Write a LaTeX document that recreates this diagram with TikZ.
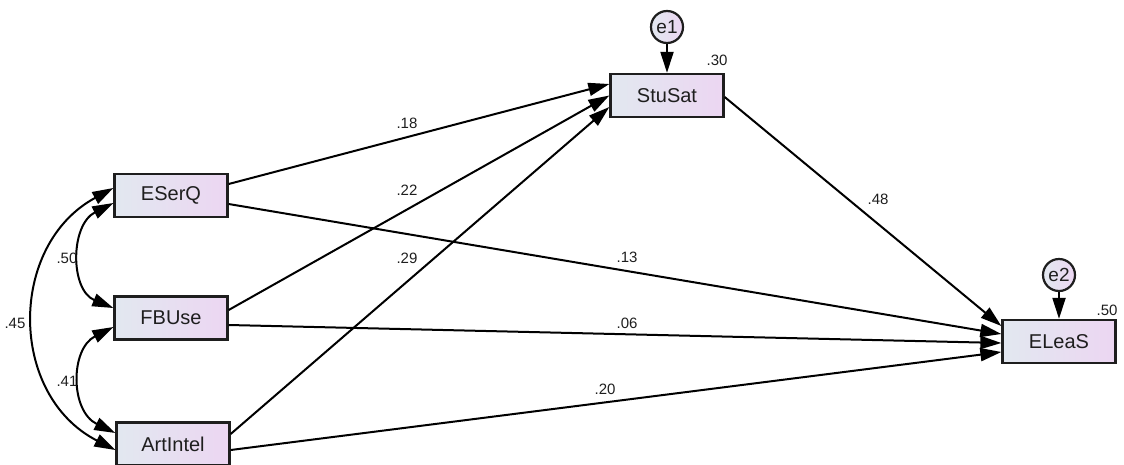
\documentclass[tikz,border=0pt]{standalone}
\usepackage{fontspec}
\setmainfont{Liberation Sans}
\usetikzlibrary{arrows.meta,calc}
\definecolor{boxL}{RGB}{226,232,240}
\definecolor{boxR}{RGB}{236,214,242}
\definecolor{edge}{RGB}{30,30,30}
\begin{document}
\begin{tikzpicture}[x=1pt,y=-1pt,
  var/.style={draw=edge, line width=2.3pt, rectangle, minimum width=113pt, minimum height=43pt,
    left color=boxL, right color=boxR, inner sep=0pt, font=\fontsize{20}{24}\selectfont, text=edge},
  err/.style={circle, draw=edge, line width=2.2pt, minimum size=32pt, inner sep=0pt,
    left color=boxL, right color=boxR, font=\fontsize{19}{22}\selectfont, text=edge},
  pth/.style={line width=2pt, -{Triangle[length=21pt,width=13pt]}},
  cov/.style={line width=2pt, {Triangle[length=21pt,width=13pt]}-{Triangle[length=21pt,width=13pt]}},
  lab/.style={font=\fontsize{15}{18}\selectfont, inner sep=0pt, text=edge}]
\useasboundingbox (0,0) rectangle (1124,464);

\node[var] (ESerQ) at (171,195.5) {ESerQ};
\node[var] (FBUse) at (171,318) {FBUse};
\node[var] (ArtIntel) at (173,444) {ArtIntel};
\node[var] (StuSat) at (667,95.5) {StuSat};
\node[var] (ELeaS) at (1059,341.5) {ELeaS};
\node[err] (e1) at (667,27) {e1};
\node[err] (e2) at (1059,275) {e2};

% error arrows
\draw[pth] (e1) -- (StuSat);
\draw[pth] (e2) -- (ELeaS);

% paths to StuSat
\draw[pth] ([yshift=11.5pt]ESerQ.east) -- ([yshift=11.5pt]StuSat.west);
\draw[pth] ([yshift=8pt]FBUse.east) -- ([yshift=0pt]StuSat.west);
\draw[pth] ([yshift=10pt]ArtIntel.east) -- ([yshift=-11.5pt]StuSat.west);

% paths to ELeaS
\draw[pth] ([yshift=-1.5pt]StuSat.east) -- ([yshift=15.5pt]ELeaS.west);
\draw[pth] ([yshift=-8.5pt]ESerQ.east) -- ([yshift=7.5pt]ELeaS.west);
\draw[pth] ([yshift=-7pt]FBUse.east) -- ([yshift=-1.5pt]ELeaS.west);
\draw[pth] ([yshift=-6pt]ArtIntel.east) -- ([yshift=-10.5pt]ELeaS.west);

% covariances
\draw[cov] ([yshift=-7.5pt]ESerQ.west) .. controls (70,225) and (70,290) .. ([yshift=10pt]FBUse.west);
\draw[cov] ([yshift=-9pt]FBUse.west) .. controls (70,349) and (70,411) .. ([yshift=11pt]ArtIntel.west);
\draw[cov] ([yshift=7.5pt]ESerQ.west) .. controls (8,245) and (8,395) .. ([yshift=-6pt]ArtIntel.west);

% labels
\node[lab] (l18) at (407,123) {.18};
\node[lab] (l22) at (407,190) {.22};
\node[lab] (l29) at (407,258) {.29};
\node[lab] (l13) at (627,257) {.13};
\node[lab] (l48) at (878,199) {.48};
\node[lab] (l06) at (627,323) {.06};
\node[lab] (l20) at (605,389) {.20};
\node[lab] (l50a) at (67,258) {.50};
\node[lab] (l45) at (15,323) {.45};
\node[lab] (l41) at (67,381) {.41};
\node[lab] (l30) at (717,60) {.30};
\node[lab] (l50b) at (1107,310) {.50};
\end{tikzpicture}
\end{document}
